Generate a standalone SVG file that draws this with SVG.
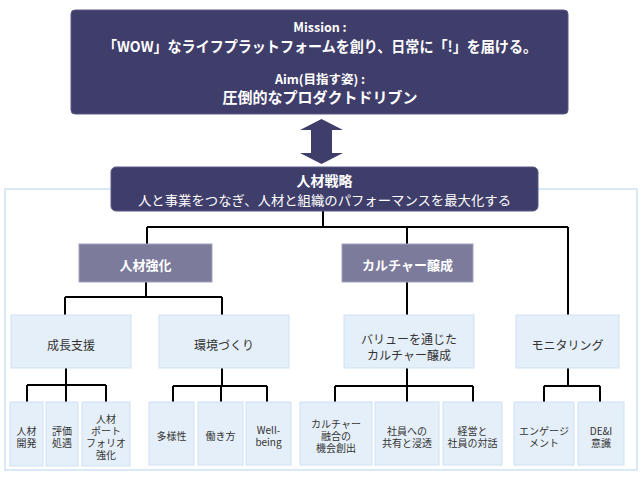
<svg xmlns="http://www.w3.org/2000/svg" width="644" height="477" viewBox="0 0 644 477">
<style>
text{font-family:"Noto Sans CJK JP","Noto Sans",sans-serif;text-anchor:middle;dominant-baseline:central}
.w{fill:#fff}
.b{font-weight:bold}
.d{fill:#333}
.dark{fill:#3f3e6b;stroke:#5a5984;stroke-width:1}
.l1{fill:#7c7b9c;stroke:#a3a2bb;stroke-width:1}
.lb{fill:#e5eff9;stroke:#cfe0f3;stroke-width:1}
.con{fill:none;stroke:#000;stroke-width:2}
.s2{font-size:12px}
.s3{font-size:10px}
</style>
<rect x="5" y="189" width="632" height="281" fill="#fff" stroke="#cfe2f5" stroke-width="1.5"/>
<g id="mission">
<rect class="dark" x="71" y="10" width="497" height="104" rx="4"/>
<text class="w b" x="320" y="26.5" font-size="12.5">Mission :</text>
<text class="w b" x="320" y="45" font-size="15" textLength="434" lengthAdjust="spacingAndGlyphs">「WOW」なライフプラットフォームを創り、日常に「!」を届ける。</text>
<text class="w b" x="320" y="78" font-size="12.5">Aim(目指す姿) :</text>
<text class="w b" x="320" y="96.5" font-size="15">圧倒的なプロダクトドリブン</text>
</g>
<g id="arrow">
<polygon points="321.5,119 343,130 332,130 332,153 343,153 321.5,164 300,153 311,153 311,130 300,130" fill="#3f3e6b"/>
</g>
<g id="connectors">
<path class="con" d="M323,211V227M147,227H568M147,227V244M407,227V244M568,227V315"/>
<path class="con" d="M146,282V297M65,297H222M65,297V315M222,297V315M407,282V315"/>
<path class="con" d="M66,367V385M27,385H106M27,385V402M66,385V402M106,385V402"/>
<path class="con" d="M222,368V386M173,386H267M173,386V402M221,386V402M267,386V402"/>
<path class="con" d="M407,368V386M335,386H473M335,386V402M407,386V402M473,386V402"/>
<path class="con" d="M568,368V386M544,386H600M544,386V402M600,386V402"/>
</g>
<g id="strategy">
<rect class="dark" x="111" y="167" width="427" height="44" rx="5"/>
<text class="w b" x="324.5" y="180" font-size="14">人材戦略</text>
<text class="w" x="324.5" y="199" font-size="13" textLength="373" lengthAdjust="spacingAndGlyphs">人と事業をつなぎ、人材と組織のパフォーマンスを最大化する</text>
</g>
<g id="jinzai-kyoka">
<rect class="l1" x="79" y="244" width="133" height="38"/>
<text class="w b" x="145.5" y="264" font-size="13">人材強化</text>
</g>
<g id="culture">
<rect class="l1" x="342" y="244" width="131" height="38"/>
<text class="w b" x="407.5" y="264" font-size="13">カルチャー醸成</text>
</g>
<g id="seicho">
<rect class="lb" x="11" y="315" width="120" height="53"/>
<text class="d s2" x="71" y="344">成長支援</text>
</g>
<g id="kankyo">
<rect class="lb" x="159" y="315" width="130" height="53"/>
<text class="d s2" x="224" y="344">環境づくり</text>
</g>
<g id="value">
<rect class="lb" x="344" y="315" width="130" height="53"/>
<text class="d s2" x="409" y="338.5">バリューを通じた<tspan x="409" dy="15">カルチャー醸成</tspan></text>
</g>
<g id="monitoring">
<rect class="lb" x="516" y="315" width="103" height="53"/>
<text class="d s2" x="567.5" y="344">モニタリング</text>
</g>
<g id="kaihatsu">
<rect class="lb" x="10" y="402" width="33" height="64"/>
<text class="d s3" x="26.5" y="430">人材<tspan x="26.5" dy="12">開発</tspan></text>
</g>
<g id="hyoka">
<rect class="lb" x="46" y="402" width="32" height="64"/>
<text class="d s3" x="62" y="430">評価<tspan x="62" dy="12">処遇</tspan></text>
</g>
<g id="portfolio">
<rect class="lb" x="82" y="402" width="48" height="64"/>
<text class="d s3" x="106" y="418">人材<tspan x="106" dy="12">ポート</tspan><tspan x="106" dy="12">フォリオ</tspan><tspan x="106" dy="12">強化</tspan></text>
</g>
<g id="tayosei">
<rect class="lb" x="149" y="402" width="45" height="63"/>
<text class="d s3" x="171.5" y="435">多様性</text>
</g>
<g id="hatarakikata">
<rect class="lb" x="198" y="402" width="45" height="63"/>
<text class="d s3" x="220.5" y="435">働き方</text>
</g>
<g id="wellbeing">
<rect class="lb" x="246" y="402" width="45" height="63"/>
<text class="d s3" x="268.5" y="429">Well-<tspan x="268.5" dy="12">being</tspan></text>
</g>
<g id="yugo">
<rect class="lb" x="300" y="402" width="72" height="63"/>
<text class="d s3" x="336" y="423">カルチャー<tspan x="336" dy="12">融合の</tspan><tspan x="336" dy="12">機会創出</tspan></text>
</g>
<g id="shinto">
<rect class="lb" x="375" y="402" width="64" height="63"/>
<text class="d s3" x="407" y="430">社員への<tspan x="407" dy="12">共有と浸透</tspan></text>
</g>
<g id="taiwa">
<rect class="lb" x="443" y="402" width="59" height="63"/>
<text class="d s3" x="472.5" y="430">経営と<tspan x="472.5" dy="12">社員の対話</tspan></text>
</g>
<g id="engagement">
<rect class="lb" x="514" y="402" width="60" height="63"/>
<text class="d s3" x="544" y="430">エンゲージ<tspan x="544" dy="12">メント</tspan></text>
</g>
<g id="dei">
<rect class="lb" x="578" y="402" width="46" height="63"/>
<text class="d s3" x="601" y="430">DE&amp;I<tspan x="601" dy="12">意識</tspan></text>
</g>
</svg>
